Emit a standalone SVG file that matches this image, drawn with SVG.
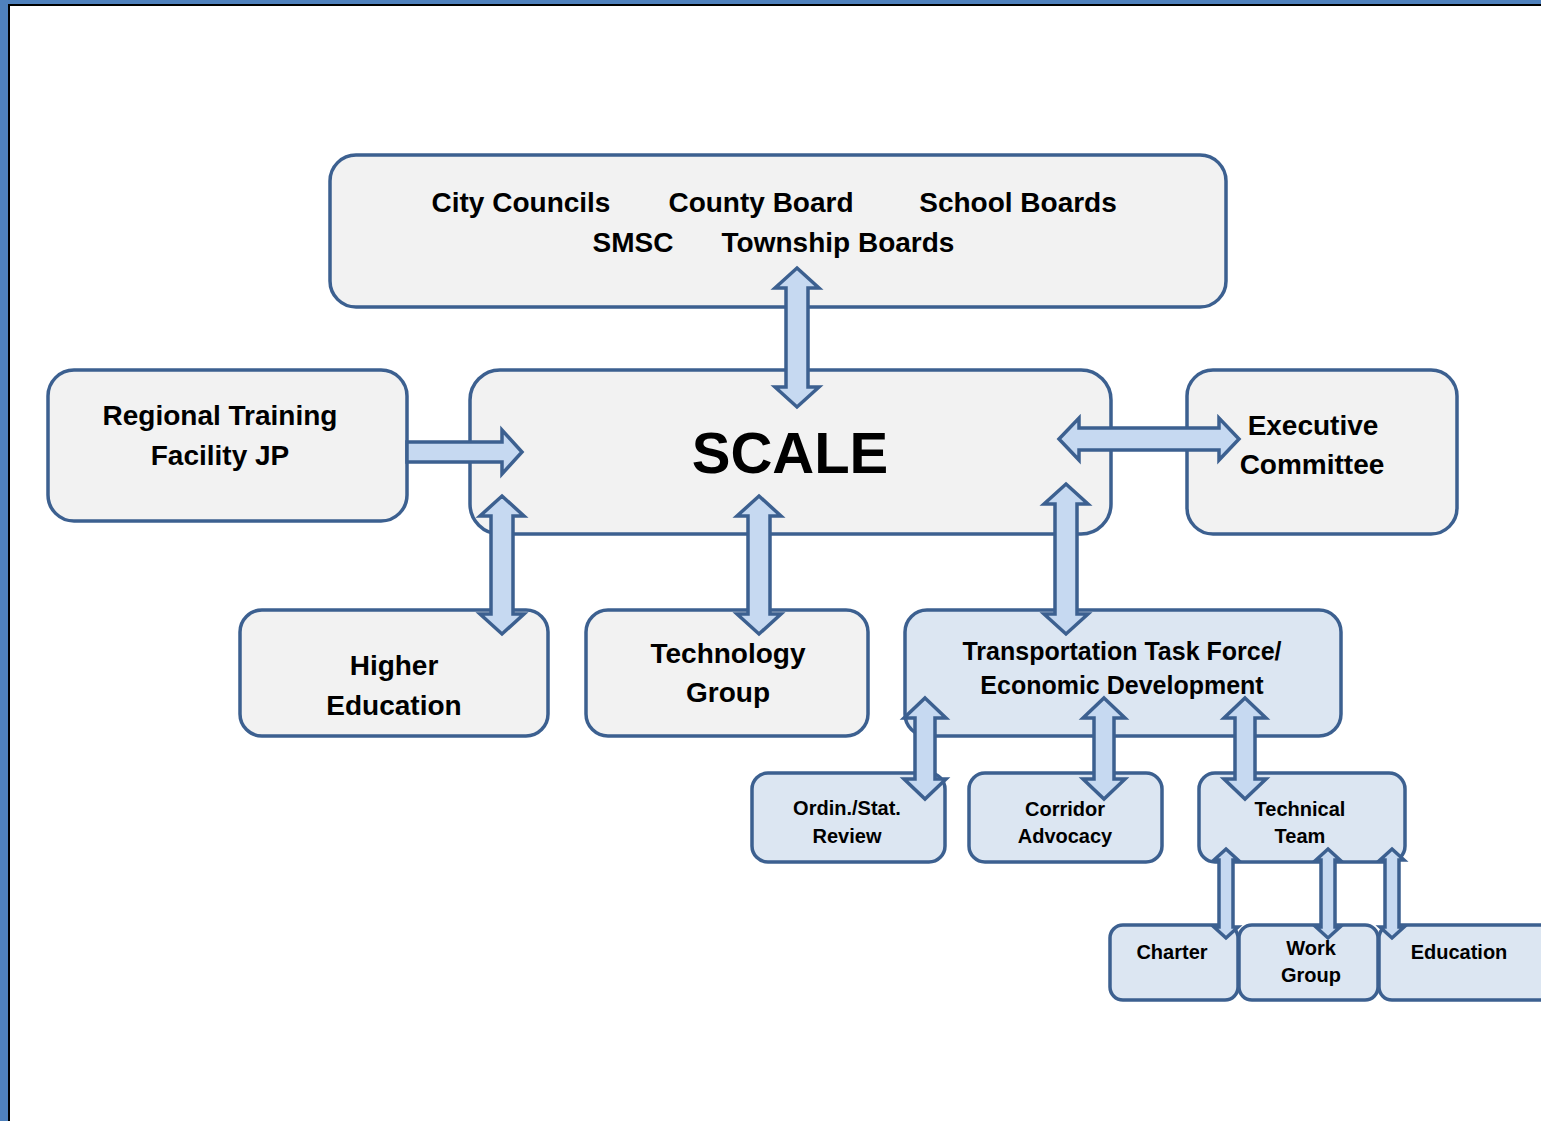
<svg xmlns="http://www.w3.org/2000/svg" width="1541" height="1121" viewBox="0 0 1541 1121">
<style>
.box{fill:#f2f2f2;stroke:#3c6090;stroke-width:3.5}
.bbox{fill:#dce6f2;stroke:#3c6090;stroke-width:3.5}
.arr{fill:#c6d9f1;stroke:#3c6090;stroke-width:3.5;stroke-linejoin:miter}
text{font-family:"Liberation Sans",Arial,sans-serif;font-weight:bold;fill:#000;text-anchor:middle}
.t28{font-size:28px}
.t25{font-size:25px}
.t20{font-size:20px}
</style>
<rect x="0" y="0" width="1541" height="1121" fill="#4f81bd"/>
<rect x="8" y="4" width="1533" height="1117" fill="#000"/>
<rect x="10" y="6" width="1531" height="1115" fill="#fff"/>

<g id="top">
<rect class="box" x="330" y="155" width="896" height="152" rx="26"/>
<text class="t28" x="521" y="212">City Councils</text>
<text class="t28" x="761" y="212">County Board</text>
<text class="t28" x="1018" y="212">School Boards</text>
<text class="t28" x="633" y="252">SMSC</text>
<text class="t28" x="838" y="252">Township Boards</text>
</g>
<g id="scale">
<rect class="box" x="470" y="370" width="641" height="164" rx="30"/>
<text x="790" y="473" style="font-size:58px">SCALE</text>
</g>
<g id="regional">
<rect class="box" x="48" y="370" width="359" height="151" rx="26"/>
<text class="t28" x="220" y="425">Regional Training</text>
<text class="t28" x="220" y="465">Facility JP</text>
</g>
<g id="executive">
<rect class="box" x="1187" y="370" width="270" height="164" rx="26"/>
<text class="t28" x="1313" y="435">Executive</text>
<text class="t28" x="1312" y="474">Committee</text>
</g>
<g id="higher">
<rect class="box" x="240" y="610" width="308" height="126" rx="22"/>
<text class="t28" x="394" y="675">Higher</text>
<text class="t28" x="394" y="715">Education</text>
</g>
<g id="technology">
<rect class="box" x="586" y="610" width="282" height="126" rx="22"/>
<text class="t28" x="728" y="663">Technology</text>
<text class="t28" x="728" y="702">Group</text>
</g>
<g id="transportation">
<rect class="bbox" x="905" y="610" width="436" height="126" rx="22"/>
<text class="t25" x="1122" y="660">Transportation Task Force/</text>
<text class="t25" x="1122" y="694">Economic Development</text>
</g>
<g id="ordin">
<rect class="bbox" x="752" y="773" width="193" height="89" rx="16"/>
<text class="t20" x="847" y="815">Ordin./Stat.</text>
<text class="t20" x="847" y="843">Review</text>
</g>
<g id="corridor">
<rect class="bbox" x="969" y="773" width="193" height="89" rx="16"/>
<text class="t20" x="1065" y="816">Corridor</text>
<text class="t20" x="1065" y="843">Advocacy</text>
</g>
<g id="technical">
<rect class="bbox" x="1199" y="773" width="206" height="89" rx="16"/>
<text class="t20" x="1300" y="816">Technical</text>
<text class="t20" x="1300" y="843">Team</text>
</g>
<g id="charter">
<rect class="bbox" x="1110" y="925" width="128" height="75" rx="13"/>
<text class="t20" x="1172" y="959">Charter</text>
</g>
<g id="workgroup">
<rect class="bbox" x="1239" y="925" width="139" height="75" rx="13"/>
<text class="t20" x="1311" y="955">Work</text>
<text class="t20" x="1311" y="982">Group</text>
</g>
<g id="education">
<rect class="bbox" x="1379" y="925" width="180" height="75" rx="13"/>
<text class="t20" x="1459" y="959">Education</text>
</g>

<g id="connectors">
<path class="arr" d="M797,268 L819,288 L808,288 L808,387 L819,387 L797,407 L775,387 L786,387 L786,288 L775,288 Z"/>
<path class="arr" d="M407,442 L502,442 L502,430 L522,452 L502,474 L502,462 L407,462 Z"/>
<path class="arr" d="M502,496 L524,516 L513,516 L513,614 L524,614 L502,634 L480,614 L491,614 L491,516 L480,516 Z"/>
<path class="arr" d="M759,496 L781,516 L770,516 L770,614 L781,614 L759,634 L737,614 L748,614 L748,516 L737,516 Z"/>
<path class="arr" d="M1066,484 L1088,504 L1077,504 L1077,614 L1088,614 L1066,634 L1044,614 L1055,614 L1055,504 L1044,504 Z"/>
<path class="arr" d="M1059,439 L1079,418 L1079,428 L1219,428 L1219,418 L1239,439 L1219,460 L1219,450 L1079,450 L1079,460 Z"/>
<path class="arr" d="M925,698 L946,718 L935,718 L935,779 L946,779 L925,799 L904,779 L915,779 L915,718 L904,718 Z"/>
<path class="arr" d="M1104,698 L1125,718 L1114,718 L1114,779 L1125,779 L1104,799 L1083,779 L1094,779 L1094,718 L1083,718 Z"/>
<path class="arr" d="M1245,698 L1266,718 L1255,718 L1255,779 L1266,779 L1245,799 L1224,779 L1235,779 L1235,718 L1224,718 Z"/>
<path class="arr" d="M1226,849 L1238,860 L1233,860 L1233,927 L1238,927 L1226,938 L1214,927 L1219,927 L1219,860 L1214,860 Z"/>
<path class="arr" d="M1328,849 L1340,860 L1335,860 L1335,927 L1340,927 L1328,938 L1316,927 L1321,927 L1321,860 L1316,860 Z"/>
<path class="arr" d="M1392,849 L1404,860 L1399,860 L1399,927 L1404,927 L1392,938 L1380,927 L1385,927 L1385,860 L1380,860 Z"/>
</g>
</svg>
